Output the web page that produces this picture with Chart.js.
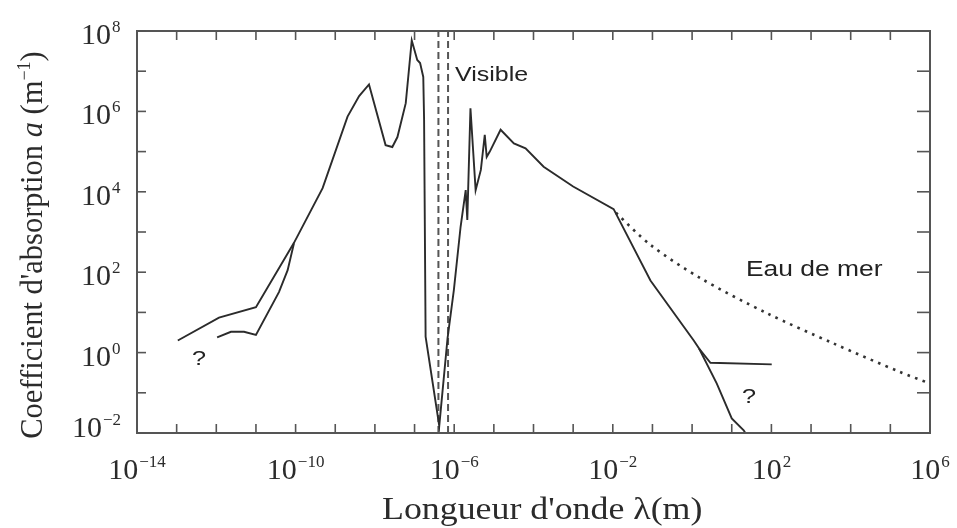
<!DOCTYPE html>
<html>
<head>
<meta charset="utf-8">
<script src="https://cdn.jsdelivr.net/npm/chart.js@4.4.0/dist/chart.umd.min.js"></script>
<style>
  html, body { margin: 0; padding: 0; background: #fff; }
  canvas { display: block; }
</style>
</head>
<body>
<canvas id="chart" width="957" height="528"></canvas>
<script>
// main absorption curve (water / ice), wavelength in m, a in m^-1
const mainX = [1.07e-13, 1.17e-12, 1.0e-11, 9.1e-11, 4.8e-10, 2.04e-9, 4.0e-9, 7.1e-9,
  1.86e-8, 2.75e-8, 3.7e-8, 6.0e-8, 8.5e-8, 1.17e-7, 1.38e-7, 1.66e-7, 1.74e-7, 1.9e-7,
  4.2e-7, 6.8e-7, 9.8e-7, 1.45e-6, 1.95e-6, 2.14e-6, 2.57e-6, 3.47e-6, 4.7e-6, 5.9e-6,
  6.6e-6, 7.9e-6, 1.48e-5, 3.2e-5, 6.3e-5, 1.8e-4, 1.0e-3, 1.05e-2, 8.9e-2, 1.1, 1.5,
  4.2, 10, 20, 22];
const mainY = [2.0, 7.4, 13.5, 537, 1.23e4, 7.4e5, 2.4e6, 4.7e6,
  1.45e5, 1.3e5, 2.3e5, 1.6e6, 5.8e7, 1.9e7, 1.6e7, 7.2e6, 6.2e5, 2.5,
  0.015, 2.3, 36, 1350, 1.1e4, 2000, 1.2e6, 1.1e4, 3.5e4, 2.6e5,
  7.4e4, 1e5, 3.5e5, 1.6e5, 1.2e5, 4.2e4, 1.35e4, 3700, 62, 2.0, 1.26,
  0.17, 0.023, 0.0117, 0.01];

// second branch at short wavelengths
const lowX = [1.05e-12, 2.34e-12, 5.0e-12, 1.0e-11, 3.8e-11, 6.3e-11, 9.1e-11];
const lowY = [2.4, 3.3, 3.3, 2.75, 32, 112, 525];

// flat branch at long wavelengths
const flatX = [1.5, 2.9, 102];
const flatY = [1.26, 0.56, 0.51];

// sea water (dotted)
const seaX = [1.2e-2, 8.9e-2, 1.62, 77.6, 3630, 1.74e5, 1e6];
const seaY = [3000, 479, 71, 9.5, 1.7, 0.33, 0.17];

// visible band limits
const visibleX = [4e-7, 7e-7];

// axes
const xMin = 1e-14, xMax = 1e6;
const yMin = 1e-2, yMax = 1e8;
const xDecades = [1e-14, 1e-13, 1e-12, 1e-11, 1e-10, 1e-9, 1e-8, 1e-7, 1e-6, 1e-5, 1e-4,
  1e-3, 1e-2, 1e-1, 1, 1e1, 1e2, 1e3, 1e4, 1e5, 1e6];
const yDecades = [1e-2, 1e-1, 1, 1e1, 1e2, 1e3, 1e4, 1e5, 1e6, 1e7, 1e8];
const xLabelVals = [1e-14, 1e-10, 1e-6, 1e-2, 1e2, 1e6];
const xLabelExps = ['\u221214', '\u221210', '\u22126', '\u22122', '2', '6'];
const yLabelVals = [1e8, 1e6, 1e4, 1e2, 1, 1e-2];
const yLabelExps = ['8', '6', '4', '2', '0', '\u22122'];

const SERIF = '"Liberation Serif", "Times New Roman", serif';
const SANS = '"Liberation Sans", Arial, sans-serif';
const INK = '#2b2b2b';

const pts = (xs, ys) => xs.map((x, i) => ({ x: x, y: ys[i] }));

function line(ctx, x1, y1, x2, y2) {
  ctx.beginPath();
  ctx.moveTo(x1, y1);
  ctx.lineTo(x2, y2);
  ctx.stroke();
}

function powWidth(ctx, exp, size) {
  ctx.font = size + 'px ' + SERIF;
  const w = ctx.measureText('10').width;
  ctx.font = Math.round(size * 0.57) + 'px ' + SERIF;
  return w + 1 + ctx.measureText(exp).width;
}

function drawPow(ctx, left, base, exp, size) {
  ctx.font = size + 'px ' + SERIF;
  ctx.fillText('10', left, base);
  const w = ctx.measureText('10').width;
  ctx.font = Math.round(size * 0.57) + 'px ' + SERIF;
  ctx.fillText(exp, left + w + 1, base - size * 0.4);
}

function stretchedText(ctx, txt, x, y, font, stretch) {
  ctx.save();
  ctx.translate(x, y);
  ctx.scale(stretch, 1);
  ctx.font = font;
  ctx.fillText(txt, 0, 0);
  ctx.restore();
}

const framePlugin = {
  id: 'frame',
  afterDatasetsDraw(chart) {
    const { ctx, chartArea: a, scales: { x, y } } = chart;
    ctx.save();
    ctx.strokeStyle = '#555';
    ctx.lineWidth = 2;
    ctx.strokeRect(a.left, a.top, a.right - a.left, a.bottom - a.top);

    // inward tick marks on all four sides
    ctx.lineWidth = 1.6;
    xDecades.forEach((v) => {
      const px = x.getPixelForValue(v);
      line(ctx, px, a.bottom, px, a.bottom - 9);
      line(ctx, px, a.top, px, a.top + 9);
    });
    yDecades.forEach((v) => {
      const py = y.getPixelForValue(v);
      line(ctx, a.left, py, a.left + 9, py);
      line(ctx, a.right, py, a.right - 13, py);
    });

    ctx.fillStyle = INK;
    ctx.textBaseline = 'alphabetic';
    ctx.textAlign = 'left';

    // x tick labels
    xLabelVals.forEach((v, i) => {
      const px = x.getPixelForValue(v);
      const w = powWidth(ctx, xLabelExps[i], 30);
      drawPow(ctx, px - w / 2, a.bottom + 46, xLabelExps[i], 30);
    });

    // y tick labels
    yLabelVals.forEach((v, i) => {
      const py = y.getPixelForValue(v);
      if (v === yMin) {
        drawPow(ctx, 72, py + 4, yLabelExps[i], 30);
      } else {
        drawPow(ctx, 81, py + 13, yLabelExps[i], 30);
      }
    });

    // x title
    stretchedText(ctx, "Longueur d'onde \u03bb(m)", 382, 519, '32px ' + SERIF, 1.12);

    // y title, rotated
    ctx.save();
    ctx.translate(42, (a.top + a.bottom) / 2 + 13);
    ctx.rotate(-Math.PI / 2);
    const parts = [
      { t: "Coefficient d'absorption ", f: '30.5px ' + SERIF, dy: 0 },
      { t: 'a', f: 'italic 30.5px ' + SERIF, dy: 0 },
      { t: ' (m', f: '30.5px ' + SERIF, dy: 0 },
      { t: '\u22121', f: '18px ' + SERIF, dy: -12 },
      { t: ')', f: '30.5px ' + SERIF, dy: 0 }
    ];
    let total = 0;
    parts.forEach((p) => { ctx.font = p.f; p.w = ctx.measureText(p.t).width; total += p.w; });
    let cx = -total / 2;
    parts.forEach((p) => { ctx.font = p.f; ctx.fillText(p.t, cx, p.dy); cx += p.w; });
    ctx.restore();

    // annotations
    ctx.fillStyle = '#222';
    stretchedText(ctx, 'Visible', 455, 81, '20px ' + SANS, 1.25);
    stretchedText(ctx, 'Eau de mer', 746, 276, '22px ' + SANS, 1.2);
    stretchedText(ctx, '?', 192, 365, '21px ' + SANS, 1.2);
    stretchedText(ctx, '?', 742, 403, '21px ' + SANS, 1.2);
    ctx.restore();
  }
};

const solid = { borderColor: INK, borderWidth: 1.9, pointRadius: 0, showLine: true, tension: 0 };

new Chart(document.getElementById('chart'), {
  type: 'scatter',
  data: {
    datasets: [
      Object.assign({ data: pts(mainX, mainY) }, solid),
      Object.assign({ data: pts(lowX, lowY) }, solid),
      Object.assign({ data: pts(flatX, flatY) }, solid),
      { data: pts(seaX, seaY), borderColor: '#333', borderWidth: 2.6, borderDash: [2.6, 5.4],
        pointRadius: 0, showLine: true, tension: 0.3 },
      { data: pts([visibleX[0], visibleX[0]], [yMin, yMax]), borderColor: '#555', borderWidth: 2,
        borderDash: [7, 4], pointRadius: 0, showLine: true },
      { data: pts([visibleX[1], visibleX[1]], [yMin, yMax]), borderColor: '#555', borderWidth: 2,
        borderDash: [7, 4], pointRadius: 0, showLine: true }
    ]
  },
  options: {
    responsive: false,
    animation: false,
    layout: { padding: { left: 137, right: 27, top: 31, bottom: 95 } },
    plugins: { legend: { display: false }, tooltip: { enabled: false } },
    scales: {
      x: { type: 'logarithmic', min: xMin, max: xMax, display: false },
      y: { type: 'logarithmic', min: yMin, max: yMax, display: false }
    }
  },
  plugins: [framePlugin]
});
</script>
</body>
</html>
